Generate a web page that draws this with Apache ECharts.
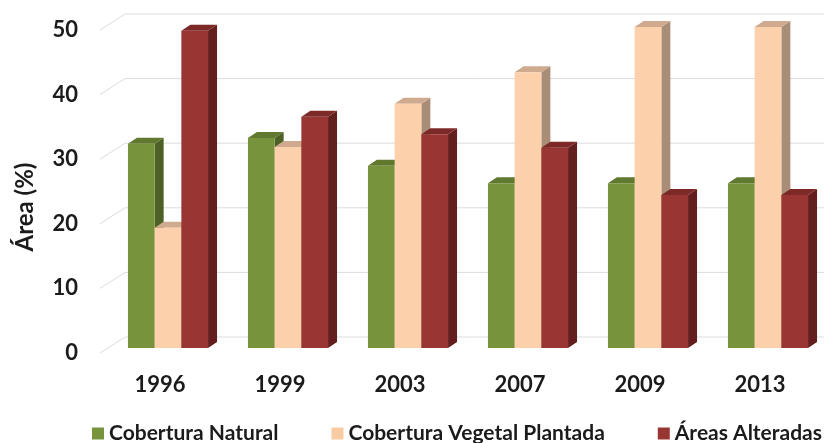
<!DOCTYPE html>
<html>
<head>
<meta charset="utf-8">
<script src="https://cdn.jsdelivr.net/npm/echarts@6/dist/echarts.min.js"></script>
<style>
  html, body { margin: 0; padding: 0; background: #ffffff; }
  #chart { width: 824px; height: 443px; }
</style>
</head>
<body>
<div id="chart"></div>
<script>
// Land-cover share per survey year
const years = ['1996', '1999', '2003', '2007', '2009', '2013'];
const coberturaNatural = [31.6, 32.5, 28.2, 25.5, 25.5, 25.5];
const coberturaPlantada = [18.6, 31.1, 37.8, 42.7, 49.7, 49.7];
const areasAlteradas = [49.1, 35.8, 33.1, 31.0, 23.7, 23.7];
const yTicks = [0, 10, 20, 30, 40, 50];
const yTitle = 'Área (%)';

// Oblique 3D look: bars sit a little behind the floor's front edge,
// gridlines live on the back wall.
const BAR_SHIFT = [8, -5];
const BAR_DEPTH = [9, -6];
const WALL_SHIFT = [25, -16];
const BAR_FRACTION = 0.2225;

const FONT = 'Lato, "Open Sans", sans-serif';
const TEXT_COLOR = '#1b1b1b';

const palettes = [
  { front: '#77933C', top: '#61792F', side: '#4D6126', legend: '#77933C' },
  { front: '#FCD0AB', top: '#CFAA8E', side: '#A98D77', legend: '#F9CBA3' },
  { front: '#993634', top: '#7C2927', side: '#621F1E', legend: '#993634' }
];

function barRenderer(slot) {
  const pal = palettes[slot];
  return function (params, api) {
    const base = api.coord([api.value(0), 0]);
    const top = api.coord([api.value(0), api.value(1)]);
    const band = api.size([1, 0])[0];
    const bw = band * BAR_FRACTION;
    const x0 = base[0] + BAR_SHIFT[0] - 1.5 * bw + slot * bw;
    const x1 = x0 + bw;
    const yb = base[1] + BAR_SHIFT[1];
    const yt = top[1] + BAR_SHIFT[1];
    const dx = BAR_DEPTH[0], dy = BAR_DEPTH[1];
    return {
      type: 'group',
      children: [
        { type: 'polygon', shape: { points: [[x1, yb], [x1 + dx, yb + dy], [x1 + dx, yt + dy], [x1, yt]] },
          style: { fill: pal.side } },
        { type: 'polygon', shape: { points: [[x0, yt], [x1, yt], [x1 + dx, yt + dy], [x0 + dx, yt + dy]] },
          style: { fill: pal.top } },
        { type: 'rect', shape: { x: x0, y: yt, width: bw, height: yb - yt },
          style: { fill: pal.front } }
      ]
    };
  };
}

function wallRenderer(params, api) {
  const cs = params.coordSys;
  const y = api.coord([0, api.value(1)])[1];
  return {
    type: 'polyline',
    shape: { points: [[cs.x, y], [cs.x + WALL_SHIFT[0], y + WALL_SHIFT[1]], [api.getWidth(), y + WALL_SHIFT[1]]] },
    style: { stroke: '#DCDCDC', lineWidth: 1, fill: null }
  };
}

const seriesDefs = [
  { name: 'Cobertura Natural', values: coberturaNatural },
  { name: 'Cobertura Vegetal Plantada', values: coberturaPlantada },
  { name: 'Áreas Alteradas', values: areasAlteradas }
];

const chart = echarts.init(document.getElementById('chart'), null, { renderer: 'canvas' });

chart.setOption({
  animation: false,
  backgroundColor: '#ffffff',
  grid: { left: 100, right: 4, top: 30, bottom: 90 },
  graphic: [{
    type: 'text',
    x: 25,
    y: 207,
    rotation: Math.PI / 2,
    style: {
      text: yTitle,
      fontFamily: FONT,
      fontWeight: 'bold',
      fontSize: 24,
      fill: TEXT_COLOR,
      align: 'center',
      verticalAlign: 'middle'
    }
  }],
  legend: {
    data: seriesDefs.map(s => s.name),
    left: 92,
    top: 423,
    width: 770,
    padding: 0,
    icon: 'rect',
    itemWidth: 12,
    itemHeight: 12,
    itemGap: 53,
    textStyle: { fontFamily: FONT, fontWeight: 'bold', fontSize: 21, color: TEXT_COLOR }
  },
  xAxis: {
    type: 'category',
    data: years,
    axisLine: { show: false },
    axisTick: { show: false },
    axisLabel: { margin: 21, fontFamily: FONT, fontWeight: 'bold', fontSize: 22, color: TEXT_COLOR }
  },
  yAxis: {
    type: 'value',
    min: 0,
    max: 50,
    interval: 10,
    axisLine: { show: false },
    axisTick: { show: false },
    splitLine: { show: false },
    axisLabel: { margin: 22, fontFamily: FONT, fontWeight: 'bold', fontSize: 22, color: TEXT_COLOR }
  },
  series: [
    {
      type: 'custom',
      name: 'wall',
      silent: true,
      z: 1,
      renderItem: wallRenderer,
      data: yTicks.map(v => [0, v])
    }
  ].concat(seriesDefs.map((s, i) => ({
    type: 'custom',
    name: s.name,
    z: 2 + i,
    itemStyle: { color: palettes[i].legend },
    renderItem: barRenderer(i),
    encode: { x: 0, y: 1 },
    data: years.map((yr, j) => [j, s.values[j]])
  })))
});
</script>
</body>
</html>
